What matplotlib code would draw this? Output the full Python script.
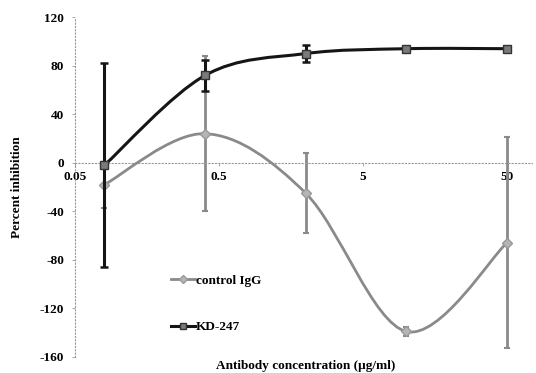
import matplotlib
matplotlib.use('Agg')

import numpy as np
import matplotlib.pyplot as plt
from matplotlib.path import Path
from matplotlib.patches import PathPatch
from matplotlib.lines import Line2D

# data
conc = [0.08, 0.4, 2, 10, 50]
kd247 = [-2, 72, 90, 94, 94]
kd247_err = [84, 13, 7, 2, 1]
igg = [-18, 24, -25, -139, -66]
igg_err = [19, 64, 33, 4, 87]

yticks = [-160, -120, -80, -40, 0, 40, 80, 120]
xticks = [0.05, 0.5, 5, 50]
xticklabels = ['0.05', '0.5', '5', '50']

plt.rcParams['font.family'] = 'Liberation Serif'
plt.rcParams['font.weight'] = 'bold'
plt.rcParams['axes.unicode_minus'] = False


def smooth_path(xs, ys):
    # Excel style smoothed line: cubic Bezier through the points,
    # control points built in log-x space
    lx = np.log10(xs)
    ys = np.asarray(ys, float)
    n = len(lx)
    verts = [(xs[0], ys[0])]
    codes = [Path.MOVETO]
    for i in range(n - 1):
        i0 = max(i - 1, 0)
        i3 = min(i + 2, n - 1)
        c1 = (lx[i] + (lx[i + 1] - lx[i0]) / 6, ys[i] + (ys[i + 1] - ys[i0]) / 6)
        c2 = (lx[i + 1] - (lx[i3] - lx[i]) / 6, ys[i + 1] - (ys[i3] - ys[i]) / 6)
        verts += [(10 ** c1[0], c1[1]), (10 ** c2[0], c2[1]), (xs[i + 1], ys[i + 1])]
        codes += [Path.CURVE4] * 3
    return Path(verts, codes)


fig = plt.figure(figsize=(5.36, 3.73), dpi=100)
ax = fig.add_axes([0.140, 0.043, 0.853, 0.911])
ax.set_xscale('log')
ax.set_xlim(0.05, 75)
ax.set_ylim(-160, 120)

# control IgG (grey)
ax.errorbar(conc, igg, yerr=igg_err, fmt='none', ecolor='#8a8a8a',
            elinewidth=2, capsize=2.5, capthick=1.5, zorder=2)
ax.add_patch(PathPatch(smooth_path(conc, igg), fill=False, edgecolor='#8a8a8a',
                       lw=2, transform=ax.transData, zorder=3))
ax.plot(conc, igg, ls='none', marker='D', ms=5, mfc='#b5b5b5', mec='#999999', zorder=4)

# KD-247 (black)
ax.errorbar(conc, kd247, yerr=kd247_err, fmt='none', ecolor='#151515',
            elinewidth=2.2, capsize=3, capthick=1.8, zorder=5)
ax.add_patch(PathPatch(smooth_path(conc, kd247), fill=False, edgecolor='#151515',
                       lw=2.2, transform=ax.transData, zorder=6))
ax.plot(conc, kd247, ls='none', marker='s', ms=6, mfc='#7a7a7a', mec='#333333', zorder=7)

# axes styling
for s in ['top', 'right']:
    ax.spines[s].set_visible(False)
ax.spines['bottom'].set_position(('data', 0))
ax.spines['bottom'].set_linestyle((0, (1, 2)))
ax.spines['bottom'].set_color('#999999')
ax.spines['left'].set_linestyle((0, (1, 2)))
ax.spines['left'].set_color('#999999')

ax.set_yticks(yticks)
ax.set_xticks(xticks)
ax.set_xticklabels(xticklabels)
ax.xaxis.set_minor_locator(plt.NullLocator())
ax.tick_params(axis='y', length=2, width=0.6, color='#999999', labelsize=9.5, pad=6)
ax.tick_params(axis='x', length=2, width=0.6, color='#999999', labelsize=9.5, pad=4)

ax.set_ylabel('Percent inhibition', fontsize=9.5, fontweight='bold', labelpad=12)
fig.text(0.571, 0.018, 'Antibody concentration (\u00b5g/ml)', ha='center', va='center',
         fontsize=9.5, fontweight='bold')

handles = [
    Line2D([], [], color='#8a8a8a', lw=2, marker='D', ms=4, mfc='#b5b5b5', mec='#999999'),
    Line2D([], [], color='#151515', lw=2.2, marker='s', ms=5, mfc='#7a7a7a', mec='#333333'),
]
ax.legend(handles, ['control IgG', 'KD-247'], loc='upper left',
          bbox_to_anchor=(0.198, 0.258), frameon=False, fontsize=9.5,
          handlelength=1.8, handletextpad=0.1, labelspacing=2.6, borderaxespad=0)

plt.savefig('out.png', dpi=100)
plt.close()
